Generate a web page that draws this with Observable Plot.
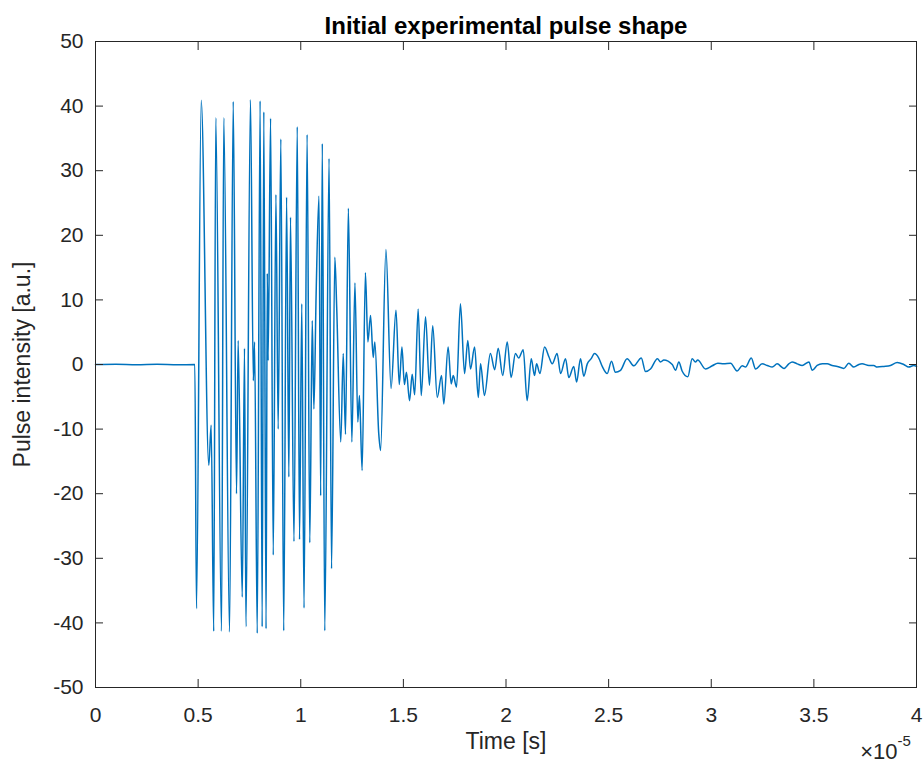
<!DOCTYPE html>
<html><head><meta charset="utf-8">
<script src="https://cdn.jsdelivr.net/npm/d3@7"></script>
<script src="https://cdn.jsdelivr.net/npm/@observablehq/plot@0.6"></script>
<style>body{margin:0;background:#fff}</style>
</head><body><div id="chart"></div>
<script>
// Time in units of 1e-5 s
const timeE5 = [
0,0.1,0.2,0.3,0.4,0.484,
0.492,0.515,0.552,0.5635,0.576,0.586,0.614,0.625,0.653,0.671,0.687,0.695,0.715,0.726,0.733,0.755,0.769,0.775,0.788,
0.802,0.812,0.820,0.831,0.837,0.841,0.853,0.866,0.879,0.890,0.903,0.917,0.931,0.942,0.950,0.967,0.983,0.994,
1.005,1.016,1.031,1.044,1.056,1.064,1.075,1.089,1.097,1.105,1.117,1.138,1.150,1.166,1.175,1.195,1.207,1.218,1.232,
1.249,1.264,1.278,1.286,1.299,1.315,1.327,1.340,1.353,1.361,1.380,1.389,1.415,1.440,1.464,1.480,1.493,1.505,1.515,
1.530,1.543,1.555,1.572,1.587,1.608,1.627,1.643,1.665,1.686,1.697,1.718,1.733,1.743,1.759,1.778,1.798,1.814,1.827,
1.847,1.865,1.876,1.895,1.924,1.945,1.962,1.984,2.006,2.025,2.046,2.062,2.084,2.103,2.123,2.139,2.149,2.165,2.188,
2.209,2.225,2.249,2.266,2.290,2.306,2.330,2.344,2.363,2.379,2.396,2.415,2.431,2.452,2.469,2.493,2.514,2.533,2.558,
2.590,2.623,2.659,2.680,2.704,2.738,2.753,2.769,2.810,2.826,2.842,2.858,2.886,2.907,2.923,2.934,2.972,3.005,3.032,
3.060,3.094,3.126,3.151,3.167,3.195,3.216,3.248,3.273,3.297,3.321,3.354,3.378,3.394,3.419,3.443,3.476,3.492,3.516,
3.541,3.565,3.589,3.614,3.646,3.670,3.695,3.719,3.735,3.768,3.792,3.808,3.841,3.873,3.906,3.938,3.962,3.987,4.0
];
const intensity = [
0,0.05,-0.05,0.05,-0.05,0,
-37.8,40.9,-15.6,-9.4,-41.3,38.2,-41.3,38.2,-41.4,40.7,-20.0,3.7,-36.0,2.5,-40.6,41.0,-2.5,3.5,-41.6,
40.8,-40.6,39.1,-40.9,14.1,0.6,38.1,-29.5,26.3,-10.0,34.9,-41.2,25.9,-17.4,22.8,-27.4,36.8,-27.1,
9.4,-37.7,35.6,-27.6,6.8,-6.9,11.0,26.1,-20.3,34.2,-41.2,31.9,-31.6,16.6,9.0,-12.0,1.7,-10.8,24.2,
-12.0,12.6,-8.9,-4.8,-16.4,14.2,3.5,7.6,1.1,3.5,-10.7,-13.3,17.8,-3.7,8.4,-3.1,2.7,-3.1,-1.2,
-5.6,-1.5,-4.7,8.6,-4.8,7.4,-3.2,6.0,-5.1,-1.7,-6.1,2.7,-3.0,-1.7,-3.5,9.4,-1.4,3.7,-0.7,
2.7,-5.1,0.1,-4.8,1.7,-0.8,2.5,-1.7,3.5,-2.0,1.7,1.0,2.3,-5.6,0.9,-1.7,0.1,-1.4,2.7,
1.2,0.1,1.7,-1.4,0.9,-2.0,-0.3,-2.7,0.9,-1.8,0.1,0.9,1.7,1.0,-0.3,-1.4,0.5,-1.2,-0.9,
0.9,-0.2,1.0,-1.1,-0.7,0.9,0.4,0.7,0.0,-0.9,0.4,-1.0,-1.9,0.9,0.4,0.7,-0.7,-0.2,0.2,
0.1,0.2,-1.0,-0.2,-0.4,1.0,-0.7,0.1,-0.15,-0.4,0.1,-0.6,0.1,0.4,0.1,-0.15,0.4,-0.9,-0.15,
0.1,0.1,-0.15,-0.3,-0.6,0.2,-0.4,0.0,0.1,-0.15,-0.15,-0.4,-0.3,-0.15,0.3,0.0,-0.4,-0.15,-0.3
];
const xTicks = [0,0.5,1,1.5,2,2.5,3,3.5,4];
const xTickLabels = ["0","0.5","1","1.5","2","2.5","3","3.5","4"];
const yTicks = [-50,-40,-30,-20,-10,0,10,20,30,40,50];
const yTickLabels = ["-50","-40","-30","-20","-10","0","10","20","30","40","50"];
const titleText = "Initial experimental pulse shape";
const xLabelText = "Time [s]";
const yLabelText = "Pulse intensity [a.u.]";
const xMultiplier = "\u00d710";
const xExponent = "-5";

const data = timeE5.map((t, i) => ({t, v: intensity[i]}));
const ink = "#262626";
const lineColor = "#0072BD";

const chart = Plot.plot({
  width: 924, height: 771,
  marginLeft: 95, marginRight: 8, marginTop: 41, marginBottom: 84,
  style: {fontFamily: "'Liberation Sans', Arial, Helvetica, sans-serif", fontSize: "21px", color: ink, background: "#fff", overflow: "visible"},
  x: {domain: [0, 4]},
  y: {domain: [-50, 50]},
  marks: [
    Plot.line(data, {x: "t", y: "v", stroke: lineColor, strokeWidth: 1.5, curve: "monotone-x"}),
    Plot.frame({stroke: ink, strokeWidth: 1}),
    Plot.axisX({anchor: "bottom", ticks: xTicks, tickFormat: d => xTickLabels[xTicks.indexOf(d)], tickSize: -8, tickPadding: 28, label: null}),
    Plot.axisX({anchor: "top", ticks: xTicks, tickFormat: () => "", tickSize: -8, label: null}),
    Plot.axisY({anchor: "left", ticks: yTicks, tickFormat: d => yTickLabels[yTicks.indexOf(d)], tickSize: -8, tickPadding: 20, label: null}),
    Plot.axisY({anchor: "right", ticks: yTicks, tickFormat: () => "", tickSize: -8, label: null}),
    Plot.text([titleText], {frameAnchor: "top", dy: -25, fontWeight: "bold", fontSize: 24, fill: "#000"}),
    Plot.text([xLabelText], {frameAnchor: "bottom", dy: 61, fontSize: 23, fill: ink}),
    Plot.text([yLabelText], {frameAnchor: "left", textAnchor: "middle", dx: -73, rotate: -90, fontSize: 23, fill: ink}),
    Plot.text([xMultiplier], {frameAnchor: "bottom-right", textAnchor: "end", dx: -19, dy: 71, fontSize: 22, fill: ink}),
    Plot.text([xExponent], {frameAnchor: "bottom-right", textAnchor: "start", dx: -19, dy: 58, fontSize: 15, fill: ink})
  ]
});
document.getElementById("chart").appendChild(chart);
</script>
</body></html>
